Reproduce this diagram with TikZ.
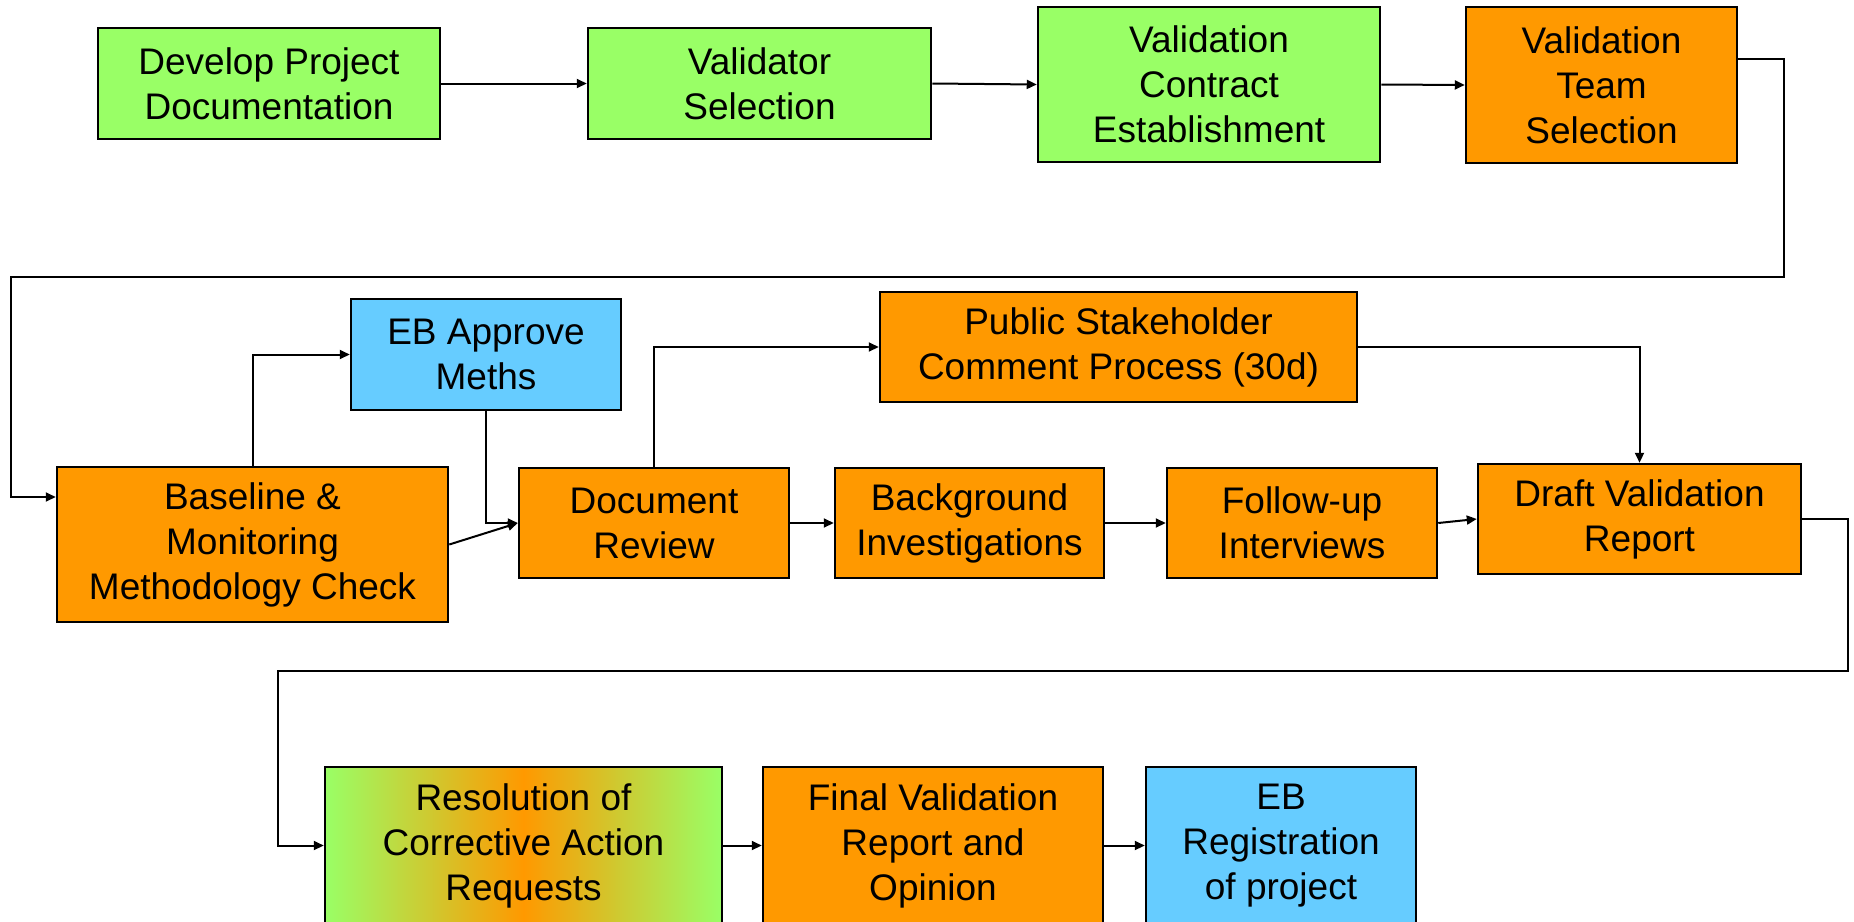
\documentclass[tikz,border=0pt]{standalone}
\usepackage{fontspec}
\setmainfont{Liberation Sans}
\usetikzlibrary{arrows.meta}
\definecolor{cgreen}{HTML}{99FF66}
\definecolor{corange}{HTML}{FF9900}
\definecolor{cblue}{HTML}{66CCFF}
\begin{document}
\begin{tikzpicture}[x=1pt,y=-1pt,
  box/.style={draw=black, line width=2.5pt, inner sep=0pt, align=center, font=\fontsize{37}{45}\selectfont},
  gbox/.style={box, fill=cgreen},
  obox/.style={box, fill=corange},
  bbox/.style={box, fill=cblue},
  arr/.style={line width=2pt, -{Triangle[length=10pt,width=9pt]}}]
\useasboundingbox (0,0) rectangle (1854,921);
\clip (0,0) rectangle (1854,921);
\fill[white] (0,0) rectangle (1854,921);

% row 1
\node[gbox, minimum width=342pt, minimum height=111pt] (dev) at (269,83.5) {Develop Project\\Documentation};
\node[gbox, minimum width=343pt, minimum height=111pt] (vsel) at (759.5,83.5) {Validator\\Selection};
\node[gbox, minimum width=342pt, minimum height=155pt] (vcon) at (1209,84.5) {Validation\\Contract\\Establishment};
\node[obox, minimum width=271pt, minimum height=156pt] (vteam) at (1601.5,85) {Validation\\Team\\Selection};

% row 2
\node[bbox, minimum width=270pt, minimum height=111pt] (ebapp) at (486,354.5) {EB Approve\\Meths};
\node[obox, minimum width=477pt, minimum height=110pt] (pub) at (1118.5,347) {Public Stakeholder\\Comment Process (30d)};
\node[obox, minimum width=391pt, minimum height=155pt] (base) at (252.5,544.5) {Baseline \&\\Monitoring\\Methodology Check};
\node[obox, minimum width=270pt, minimum height=110pt] (doc) at (654,523) {Document\\Review};
\node[obox, minimum width=269pt, minimum height=110pt] (bg) at (969.5,523) {Background\\Investigations};
\node[obox, minimum width=270pt, minimum height=110pt] (fu) at (1302,523) {Follow-up\\Interviews};
\node[obox, minimum width=323pt, minimum height=110pt] (draft) at (1639.5,519) {Draft Validation\\Report};

% row 3
\node[box, left color=cgreen, right color=cgreen, middle color=corange, minimum width=397pt, minimum height=157pt] (res) at (523.5,845.5) {Resolution of\\Corrective Action\\Requests};
\node[obox, minimum width=340pt, minimum height=157pt] (fin) at (933,845.5) {Final Validation\\Report and\\Opinion};
\node[bbox, minimum width=270pt, minimum height=157pt] (ebreg) at (1281,845.5) {EB\\Registration\\of project};

% bend points
\coordinate (r1) at (1784,59);
\coordinate (r2) at (1784,277);
\coordinate (r3) at (11,277);
\coordinate (r4) at (11,497);
\coordinate (d1) at (1848,671);
\coordinate (d2) at (278,671);

% connectors
\draw[arr] (dev.east) -- (vsel.west);
\draw[arr] (vsel.east) -- (vcon.west);
\draw[arr] (vcon.east) -- (vteam.west);
\draw[arr] (vteam.east |- r1) -- (r1) -- (r2) -- (r3) -- (r4) -- (base.west |- r4);
\draw[arr] (base.north) |- (ebapp.west);
\draw[arr] (ebapp.south) |- (doc.west);
\draw[arr] (base.east) -- (doc.west);
\draw[arr] (doc.north) |- (pub.west);
\draw[arr] (pub.east) -| (draft.north);
\draw[arr] (doc.east) -- (bg.west);
\draw[arr] (bg.east) -- (fu.west);
\draw[arr] (fu.east) -- (draft.west);
\draw[arr] (draft.east) -| (d1) -- (d2) |- (res.west);
\draw[arr] (res.east) -- (fin.west);
\draw[arr] (fin.east) -- (ebreg.west);
\end{tikzpicture}
\end{document}
